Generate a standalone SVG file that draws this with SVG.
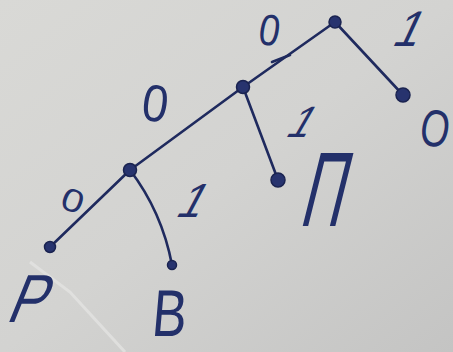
<svg xmlns="http://www.w3.org/2000/svg" width="453" height="352" viewBox="0 0 453 352">
  <defs>
    <linearGradient id="paper" x1="0" y1="0" x2="1" y2="1">
      <stop offset="0" stop-color="#d9d9d6"/>
      <stop offset="0.5" stop-color="#d3d3d1"/>
      <stop offset="1" stop-color="#c4c4c3"/>
    </linearGradient>
    <style>
      .edge { stroke: #1f2a5e; stroke-width: 2.6; fill: none; stroke-linecap: round; }
      .dot { fill: #27336e; stroke: #1a2350; stroke-width: 1.5; }
      .lbl { font-family: "Liberation Sans", "DejaVu Sans", sans-serif; fill: #23306a; text-anchor: middle; }
    </style>
  </defs>
  <rect x="0" y="0" width="453" height="352" fill="url(#paper)"/>
  <path d="M30 262 L70 292 L125 352" stroke="#e6e6e4" stroke-width="3" fill="none" opacity="0.7"/>

  <g id="connectors">
    <line class="edge" x1="335" y1="22" x2="403" y2="95"/>
    <line class="edge" x1="335" y1="22" x2="243" y2="87"/>
    <path class="edge" d="M272 62 L290 55" stroke-width="3.5"/>
    <line class="edge" x1="243" y1="87" x2="278" y2="180" stroke-width="3.2"/>
    <line class="edge" x1="243" y1="87" x2="130" y2="170"/>
    <line class="edge" x1="130" y1="170" x2="50" y2="247"/>
    <path class="edge" d="M130 170 Q162 212 172 265"/>
  </g>

  <g id="n-root"><circle class="dot" cx="335" cy="22" r="6"/></g>
  <g id="n-mid"><circle class="dot" cx="243" cy="87" r="6.5"/></g>
  <g id="n-low"><circle class="dot" cx="130" cy="170" r="6.5"/></g>
  <g id="n-O"><circle class="dot" cx="403" cy="95" r="7"/>
    <text class="lbl" font-size="52" transform="translate(432,146) rotate(10) scale(0.72,1)">О</text></g>
  <g id="n-P2"><circle class="dot" cx="278" cy="180" r="7"/>
    <text class="lbl" font-size="106" transform="translate(319,226) skewX(-14) scale(0.55,1)">П</text></g>
  <g id="n-R"><circle class="dot" cx="50" cy="247" r="5.5"/>
    <text class="lbl" font-size="68" transform="translate(23,322) skewX(-22) scale(0.8,1)">Р</text></g>
  <g id="n-V"><circle class="dot" cx="172" cy="265" r="4.5"/>
    <text class="lbl" font-size="66" transform="translate(168,336) skewX(-5) scale(0.78,1)">В</text></g>

  <g id="edge-labels">
    <text class="lbl" font-size="44" transform="translate(267,45) rotate(10) scale(0.85,1)">0</text>
    <text class="lbl" font-size="50" transform="translate(403,46) skewX(-25) scale(0.9,1)">1</text>
    <text class="lbl" font-size="52" transform="translate(153,121) rotate(8) scale(0.9,1)">0</text>
    <text class="lbl" font-size="44" transform="translate(295,137) skewX(-30) scale(0.9,1)">1</text>
    <text class="lbl" font-size="38" transform="translate(69,211) rotate(20) scale(1.05,0.85)">0</text>
    <text class="lbl" font-size="48" transform="translate(186,217) skewX(-28) scale(0.9,1)">1</text>
  </g>
</svg>
